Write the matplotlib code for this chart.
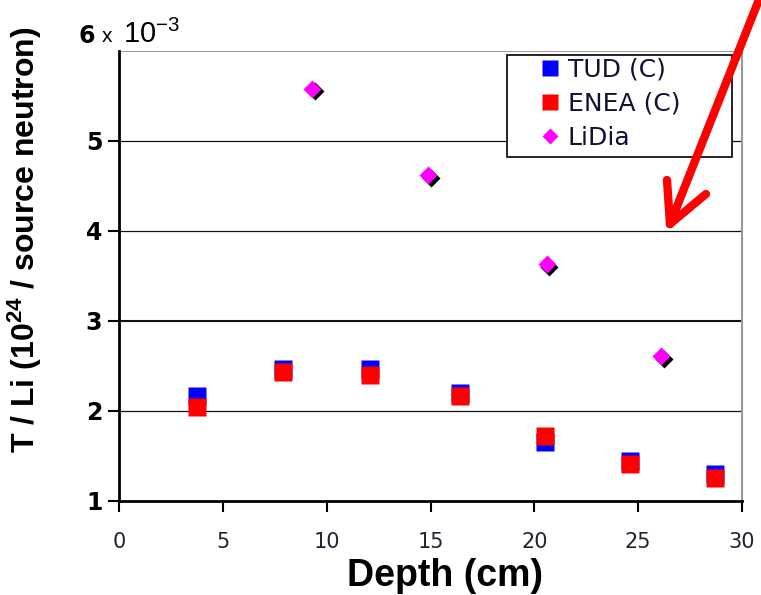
import matplotlib
matplotlib.use("Agg")
from matplotlib import pyplot as plt
from matplotlib.lines import Line2D
from matplotlib.patches import Rectangle
import matplotlib.transforms as mtransforms

plt.rcParams['mathtext.default'] = 'regular'

# data (T/Li in units of 1e-3)
depth_exp = [3.75, 7.9, 12.1, 16.4, 20.5, 24.6, 28.7]
tud = [2.17, 2.47, 2.47, 2.20, 1.66, 1.44, 1.30]
enea = [2.04, 2.43, 2.40, 2.17, 1.72, 1.41, 1.26]

depth_lidia = [9.3, 14.9, 20.6, 26.1]
lidia = [5.58, 4.62, 3.63, 2.61]

yticks = [1, 2, 3, 4, 5]
xticks = [0, 5, 10, 15, 20, 25, 30]

W, H = 761, 595
fig = plt.figure(figsize=(W / 100, H / 100), dpi=100)
ax = fig.add_axes([119 / W, 1 - 501 / H, 623 / W, 450 / H])

# grid lines
for v in yticks[1:]:
    ax.axhline(v, color='#111111', lw=1.5 if v == 3 else 0.9, zorder=1)
ax.axhline(6, color='#888888', lw=1.2, zorder=1)

ax.plot(depth_exp, tud, 's', color='#0000ff', ms=12.5, mec='none', label='TUD (C)', zorder=3)
ax.plot(depth_exp, enea, 's', color='#ff0000', ms=12.5, mec='none', label='ENEA (C)', zorder=4)

shadow = mtransforms.offset_copy(ax.transData, fig=fig, x=2.5, y=-2.5, units='dots')
ax.plot(depth_lidia, lidia, 'D', color='black', ms=9, mec='none', transform=shadow, zorder=4)
ax.plot(depth_lidia, lidia, 'D', color='#ff00ff', ms=9, mec='none', label='LiDia', zorder=5)

ax.set_xlim(0, 30)
ax.set_ylim(1, 6)
ax.set_xticks(xticks)
ax.set_yticks(yticks)
ax.set_xticklabels([str(x) for x in xticks], fontsize=15, color='#222233', family='DejaVu Sans')
ax.set_yticklabels([str(y) for y in yticks], fontsize=17, fontweight='bold', family='DejaVu Sans')
ax.tick_params(axis='x', direction='out', length=8, width=1.5, pad=14)
ax.tick_params(axis='y', direction='out', length=8, width=1.5, pad=4)

for s in ['left', 'bottom']:
    ax.spines[s].set_linewidth(2)
    ax.spines[s].set_color('black')
ax.spines['top'].set_visible(False)
ax.spines['right'].set_color('#999999')
ax.spines['right'].set_linewidth(1.5)

ax.set_xlabel('Depth (cm)', fontsize=27, fontweight='bold', family='Liberation Sans')
ax.xaxis.set_label_coords(0.523, -0.127)
ax.set_ylabel('T / Li (10$^{24}$ / source neutron)', fontsize=23, fontweight='bold',
              family='Liberation Sans')
ax.yaxis.set_label_coords(-0.12, 0.58)

# the "6 x 10^-3" label at the top of the axis
fig.text(78 / W, 1 - 43 / H, '6', fontsize=17, fontweight='bold', family='DejaVu Sans', va='baseline')
fig.text(102 / W, 1 - 42 / H, 'x', fontsize=15, family='Liberation Sans', va='baseline')
fig.text(123 / W, 1 - 43 / H, '10$^{-3}$', fontsize=21, family='Liberation Sans', va='baseline')

# legend box + entries
fig.add_artist(Rectangle((507 / W, 1 - 157 / H), 225 / W, 102 / H, transform=fig.transFigure,
                         facecolor='white', edgecolor='black', lw=1.2, zorder=3))
handles = [Line2D([], [], ls='none', marker='s', color='#0000ff', ms=12, mec='none'),
           Line2D([], [], ls='none', marker='s', color='#ff0000', ms=12, mec='none'),
           Line2D([], [], ls='none', marker='D', color='#ff00ff', ms=8.5, mec='none')]
leg = fig.legend(handles, ['TUD (C)', 'ENEA (C)', 'LiDia'], loc='upper left',
                 bbox_to_anchor=(537 / W, 1 - 58 / H), bbox_transform=fig.transFigure,
                 prop={'family': 'DejaVu Sans', 'size': 18}, frameon=False,
                 borderaxespad=0, borderpad=0, handletextpad=0.22, labelspacing=0.4,
                 handlelength=1.0)
leg.set_zorder(5)
for t in leg.get_texts():
    t.set_color('#111133')

# red arrow drawn on top of the figure
arrow_kw = dict(color='#ff0000', lw=6, solid_capstyle='round', transform=fig.transFigure, zorder=10)
tip = (670 / W, 1 - 224 / H)
fig.add_artist(Line2D([762 / W, tip[0]], [1 + 8 / H, tip[1]], **arrow_kw))
fig.add_artist(Line2D([667 / W, tip[0]], [1 - 180 / H, tip[1]], **arrow_kw))
fig.add_artist(Line2D([706 / W, tip[0]], [1 - 194 / H, tip[1]], **arrow_kw))

fig.savefig('out.png', dpi=100)
